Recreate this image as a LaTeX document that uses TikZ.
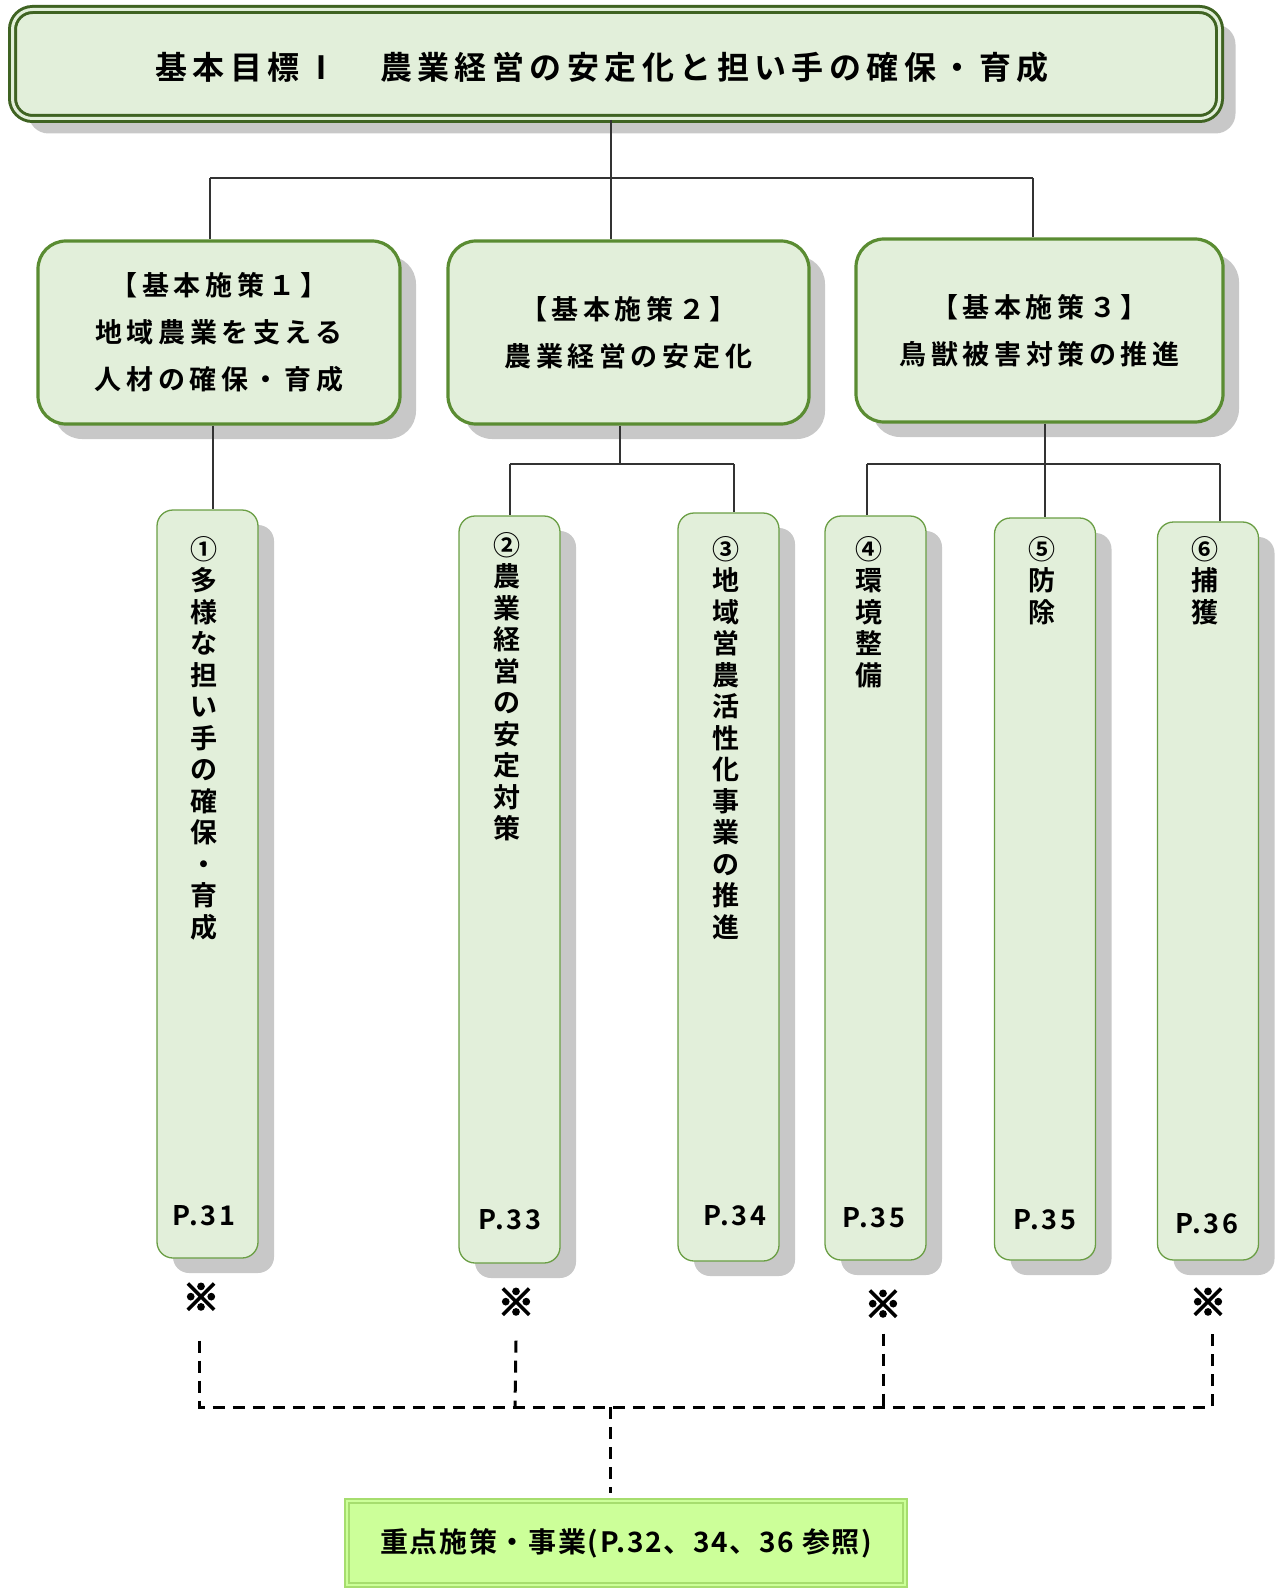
\documentclass[tikz,border=0pt]{standalone}
\usepackage{fontspec}
\usetikzlibrary{shadows,calc}
\newfontfamily\jp{Noto Sans CJK JP Bold}
\definecolor{boxfill}{HTML}{E2EFDA}
\definecolor{topborder}{HTML}{3F6322}
\definecolor{lvborder}{HTML}{5A8C32}
\definecolor{tallborder}{HTML}{6A9E44}
\definecolor{shadowgray}{HTML}{C8C8C8}
\definecolor{botfill}{HTML}{CCFF99}
\definecolor{botborder}{HTML}{A6DD6E}
\definecolor{connc}{HTML}{333333}
\tikzset{
  gshadow/.style={drop shadow={shadow xshift=16pt, shadow yshift=-15pt, fill=shadowgray, opacity=1}},
  topbox/.style={draw=topborder, line width=3pt, double=boxfill, double distance=3pt, fill=boxfill,
    rounded corners=20pt, inner sep=0pt, gshadow},
  lvbox/.style={draw=lvborder, line width=3.2pt, fill=boxfill, rounded corners=28pt, inner sep=0pt,
    align=center, gshadow, font=\jp\fontsize{27}{47}\selectfont\addfontfeatures{LetterSpace=17}},
  tallbox/.style={draw=tallborder, line width=1.3pt, fill=boxfill, rounded corners=16pt, inner sep=0pt,
    minimum width=101pt, gshadow},
  vtext/.style={anchor=north, inner sep=0pt, align=center,
    font=\jp\fontsize{27}{31.5}\selectfont},
  plabel/.style={inner sep=0pt, font=\jp\fontsize{27}{30}\selectfont\addfontfeatures{LetterSpace=10}},
  kome/.style={inner sep=0pt, font=\jp\fontsize{36}{36}\selectfont\addfontfeatures{FakeBold=6}},
  botbox/.style={draw=botborder, line width=2pt, double=botfill, double distance=2.5pt, fill=botfill,
    inner sep=0pt, font=\jp\fontsize{28}{30}\selectfont\addfontfeatures{LetterSpace=6}},
  conn/.style={draw=connc, line width=1.4pt},
  dconn/.style={draw=black, line width=3pt, dash pattern=on 12pt off 8pt},
}
\begin{document}
\begin{tikzpicture}[x=1pt,y=-1pt]
\useasboundingbox (0,0) rectangle (1279,1589);
% top box
\node[topbox, minimum width=1207pt, minimum height=109pt] (top) at (616,64) {};
\node[inner sep=0pt, font=\jp\fontsize{32}{32}\selectfont\addfontfeatures{LetterSpace=17}] (toptext) at (602,67) {基本目標Ⅰ　農業経営の安定化と担い手の確保・育成};
% level 2
\node[lvbox, minimum width=362pt, minimum height=183pt] (b1) at (219,332.5) {【基本施策１】\\地域農業を支える\\人材の確保・育成};
\node[lvbox, minimum width=361pt, minimum height=183pt] (b2) at (628.5,332.5) {【基本施策２】\\農業経営の安定化};
\node[lvbox, minimum width=367pt, minimum height=183pt] (b3) at (1039.5,330.5) {【基本施策３】\\鳥獣被害対策の推進};
% level 3
\node[tallbox, minimum height=748pt] (t1) at (207.5,884) {};
\node[tallbox, minimum height=747pt] (t2) at (509.5,889.5) {};
\node[tallbox, minimum height=748pt] (t3) at (728.5,887) {};
\node[tallbox, minimum height=744pt] (t4) at (875.5,888) {};
\node[tallbox, minimum height=742pt] (t5) at (1045,889) {};
\node[tallbox, minimum height=738pt] (t6) at (1208,891) {};
\node[vtext] (v1) at (204,536) {①\\多\\様\\な\\担\\い\\手\\の\\確\\保\\・\\育\\成};
\node[vtext] (v2) at (507,532) {②\\農\\業\\経\\営\\の\\安\\定\\対\\策};
\node[vtext] (v3) at (726,536) {③\\地\\域\\営\\農\\活\\性\\化\\事\\業\\の\\推\\進};
\node[vtext] (v4) at (869,536) {④\\環\\境\\整\\備};
\node[vtext] (v5) at (1042,536) {⑤\\防\\除};
\node[vtext] (v6) at (1205,536) {⑥\\捕\\獲};
\node[plabel] (p1) at (204,1216) {P.31};
\node[plabel] (p2) at (510,1220) {P.33};
\node[plabel] (p3) at (735,1216) {P.34};
\node[plabel] (p4) at (874,1218) {P.35};
\node[plabel] (p5) at (1045,1220) {P.35};
\node[plabel] (p6) at (1207,1224) {P.36};
% kome marks
\node[kome] (k1) at (201,1297) {※};
\node[kome] (k2) at (516,1302) {※};
\node[kome] (k3) at (883,1304) {※};
\node[kome] (k4) at (1208,1302) {※};
% bottom box
\node[botbox, minimum width=558pt, minimum height=84pt] (bot) at (626,1543) {重点施策・事業(P.32、34、36 参照)};
% connectors level 1 -> 2
\coordinate (h1) at (611,178);
\coordinate (x1) at (210,178);
\coordinate (x3) at (1033,178);
\draw[conn] (top.south -| h1) -- (b2.north -| h1);
\draw[conn] (x1) -- (x3);
\draw[conn] (x1) -- (b1.north -| x1);
\draw[conn] (x3) -- (b3.north -| x3);
% level 2 -> 3
\coordinate (y1) at (213,0);
\draw[conn] (b1.south -| y1) -- (t1.north -| y1);
\coordinate (h2) at (620,464);
\coordinate (h2l) at (510,464);
\coordinate (h2r) at (734,464);
\draw[conn] (b2.south -| h2) -- (h2);
\draw[conn] (h2l) -- (h2r);
\draw[conn] (h2l) -- (t2.north -| h2l);
\draw[conn] (h2r) -- (t3.north -| h2r);
\coordinate (h3) at (1045,464);
\coordinate (h3l) at (867,464);
\coordinate (h3r) at (1220,464);
\draw[conn] (b3.south -| h3) -- (t5.north -| h3);
\draw[conn] (h3l) -- (h3r);
\draw[conn] (h3l) -- (t4.north -| h3l);
\draw[conn] (h3r) -- (t6.north -| h3r);
% dashed
\coordinate (d1) at (199,1407);
\coordinate (d2) at (515,1407);
\coordinate (d3) at (883,1407);
\coordinate (d4) at (1212,1407);
\coordinate (dc) at (610,1407);
\draw[dconn] ($(k1.south)+(-2,30)$) -- (d1) -- (d4) -- ($(k4.south)+(4,16)$);
\draw[dconn] ($(k2.south)+(0,25)$) -- (d2);
\draw[dconn] ($(k3.south)+(0,16)$) -- (d3);
\draw[dconn] (dc) -- ($(bot.north -| dc)+(0,-7)$);
\end{tikzpicture}
\end{document}
